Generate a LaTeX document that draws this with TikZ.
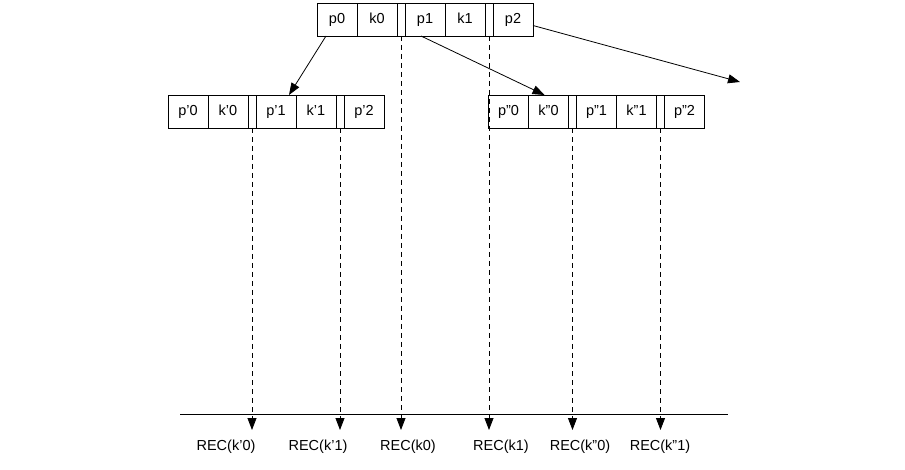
\documentclass[tikz,border=0pt]{standalone}
\usepackage{fontspec}
\setmainfont{Liberation Sans}
\usetikzlibrary{arrows.meta, positioning}

\begin{document}
\begin{tikzpicture}[x=1pt, y=-1pt, font=\fontsize{14.5}{17}\selectfont,
  cell/.style={draw, line width=0.8pt, minimum width=40pt, minimum height=33pt, text height=10.5pt, text depth=3pt, inner sep=0pt, outer sep=0pt},
  gapcell/.style={cell, minimum width=8pt},
  ptr/.style={-{Triangle[length=12pt,width=9pt]}, line width=0.8pt},
  recline/.style={ptr, dash pattern=on 5pt off 4pt}]
  \useasboundingbox (0,0) rectangle (905,470);
  % root page
  \node[cell] (tp0) at (337,19.5) {p0};
  \node[cell, right=0pt of tp0] (tk0) {k0};
  \node[gapcell, right=0pt of tk0] (ts0) {};
  \node[cell, right=0pt of ts0] (tp1) {p1};
  \node[cell, right=0pt of tp1] (tk1) {k1};
  \node[gapcell, right=0pt of tk1] (ts1) {};
  \node[cell, right=0pt of ts1] (tp2) {p2};
  % left child page
  \node[cell] (lp0) at (188,111.5) {p’0};
  \node[cell, right=0pt of lp0] (lk0) {k’0};
  \node[gapcell, right=0pt of lk0] (ls0) {};
  \node[cell, right=0pt of ls0] (lp1) {p’1};
  \node[cell, right=0pt of lp1] (lk1) {k’1};
  \node[gapcell, right=0pt of lk1] (ls1) {};
  \node[cell, right=0pt of ls1] (lp2) {p’2};
  % right child page
  \node[cell] (rp0) at (508.5,111.5) {p”0};
  \node[cell, right=0pt of rp0] (rk0) {k”0};
  \node[gapcell, right=0pt of rk0] (rs0) {};
  \node[cell, right=0pt of rs0] (rp1) {p”1};
  \node[cell, right=0pt of rp1] (rk1) {k”1};
  \node[gapcell, right=0pt of rk1] (rs1) {};
  \node[cell, right=0pt of rs1] (rp2) {p”2};
  % child pointers
  \coordinate (far) at (740,82);
  \draw[ptr] ([xshift=-11pt]tp0.south) -- ([xshift=13pt]lp1.north);
  \draw[ptr] ([xshift=-4pt]tp1.south) -- ([xshift=-4pt]rk0.north);
  \draw[ptr] ([yshift=-6pt]tp2.east) -- (far);
  % record level
  \coordinate (axl) at (180,414);
  \coordinate (axr) at (728,414);
  \draw[line width=0.8pt] (axl) -- (axr);
  \coordinate (tip) at (0,430);
  \foreach \s in {ls0, ls1, ts0, ts1, rs0, rs1}
    \draw[recline] (\s.south) -- (\s.south |- tip);
  % records
  \node (recl0) at (226,447) {REC(k’0)};
  \node (recl1) at (318,447) {REC(k’1)};
  \node (rect0) at (408,447) {REC(k0)};
  \node (rect1) at (501,447) {REC(k1)};
  \node (recr0) at (580,447) {REC(k”0)};
  \node (recr1) at (660,447) {REC(k”1)};
\end{tikzpicture}
\end{document}
